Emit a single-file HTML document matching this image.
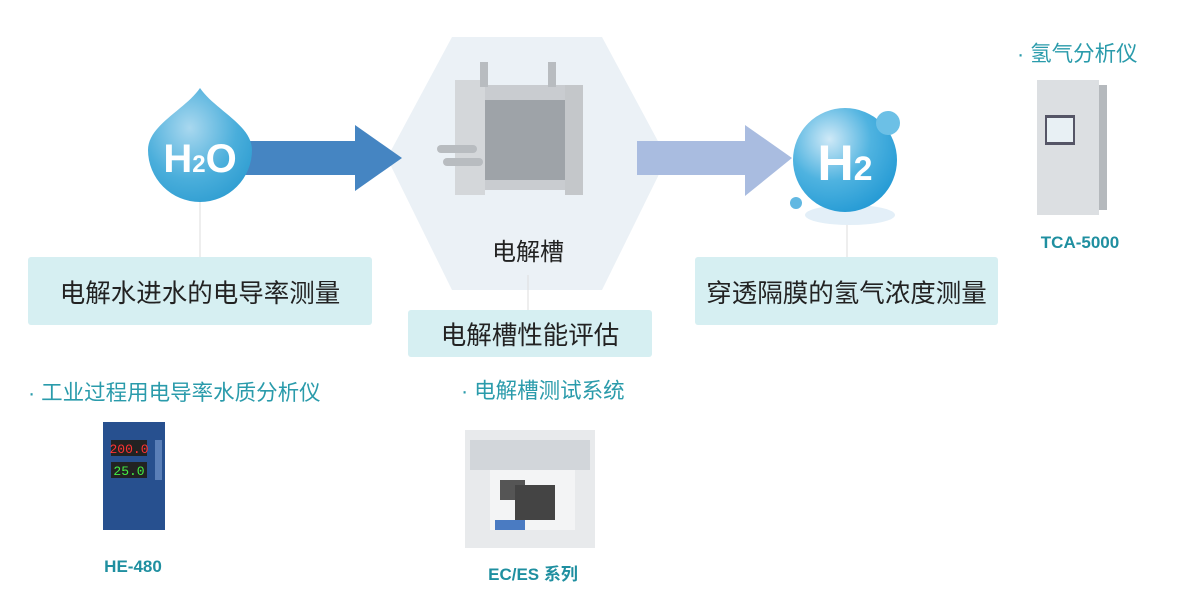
<!DOCTYPE html>
<html><head><meta charset="utf-8"><style>
body{margin:0;width:1200px;height:600px;background:#fff;overflow:hidden;position:relative;font-family:"Liberation Sans","Noto Sans CJK SC",sans-serif}
.a{position:absolute}
.box{position:absolute;background:#d6eff2;border-radius:3px;display:flex;align-items:center;justify-content:center;color:#222;font-size:25.5px}
.teal{color:#2a9bab;font-size:21.5px}
.lbl{color:#1f8fa0;font-weight:bold;font-size:17px;text-align:center}
</style></head><body>
<svg class="a" style="left:0;top:0" width="1200" height="600">
<defs>
<radialGradient id="d" cx="0.4" cy="0.35" r="0.75"><stop offset="0" stop-color="#a9d8ef"/><stop offset="0.6" stop-color="#4aaedb"/><stop offset="1" stop-color="#2b9bd0"/></radialGradient>
<radialGradient id="h" cx="0.35" cy="0.3" r="0.8"><stop offset="0" stop-color="#cfe9f7"/><stop offset="0.5" stop-color="#4fb3e0"/><stop offset="1" stop-color="#1f97d3"/></radialGradient>
</defs>
<polygon points="452,37 602,37 667,158 602,290 452,290 387,158" fill="#ebf1f6"/>
<line x1="200" y1="200" x2="200" y2="258" stroke="#ddd"/>
<line x1="528" y1="275" x2="528" y2="312" stroke="#ddd"/>
<line x1="847" y1="222" x2="847" y2="258" stroke="#ddd"/>
<polygon points="245,141 355,141 355,125 402,158 355,191 355,175 245,175" fill="#4585c2"/>
<path d="M200,88 C215,110 252,125 252,150 A52,52 0 0 1 148,150 C148,125 185,110 200,88Z" fill="url(#d)"/>
<text x="200" y="172" text-anchor="middle" fill="#fff" font-family="Liberation Sans" font-weight="bold" font-size="40">H<tspan font-size="24">2</tspan>O</text>
<polygon points="637,141 745,141 745,125 792,158 745,196 745,175 637,175" fill="#a9bce0"/>
<ellipse cx="850" cy="215" rx="45" ry="10" fill="#e3eff8"/>
<circle cx="845" cy="160" r="52" fill="url(#h)"/>
<circle cx="888" cy="123" r="12" fill="#6cc0e6"/>
<circle cx="796" cy="203" r="6" fill="#62b8e2"/>
<text x="845" y="180" text-anchor="middle" fill="#fff" font-family="Liberation Sans" font-weight="bold" font-size="50">H<tspan font-size="34">2</tspan></text>
<g fill="#b8bcc0">
<rect x="458" y="85" width="120" height="105" fill="#c9ccd0"/>
<rect x="485" y="100" width="80" height="80" fill="#9ea3a8"/>
<rect x="455" y="80" width="30" height="115" fill="#d4d7da"/>
<rect x="565" y="85" width="18" height="110" fill="#c4c7ca"/>
<rect x="437" y="145" width="40" height="8" rx="4"/>
<rect x="443" y="158" width="40" height="8" rx="4"/>
<rect x="480" y="62" width="8" height="25"/><rect x="548" y="62" width="8" height="25"/>
</g>
<rect x="1037" y="80" width="62" height="135" fill="#dcdfe2"/>
<rect x="1099" y="85" width="8" height="125" fill="#b5b9bd"/>
<rect x="1045" y="115" width="30" height="30" fill="#556"/>
<rect x="1047" y="118" width="26" height="24" fill="#e8f0f4"/>
<rect x="103" y="422" width="62" height="108" fill="#27508f"/>
<rect x="111" y="440" width="36" height="16" fill="#222"/><text x="129" y="453" text-anchor="middle" fill="#f33" font-size="13" font-family="Liberation Mono">200.0</text>
<rect x="111" y="462" width="36" height="16" fill="#222"/><text x="129" y="475" text-anchor="middle" fill="#4e4" font-size="13" font-family="Liberation Mono">25.0</text>
<rect x="155" y="440" width="7" height="40" fill="#5a7fb8"/>
<rect x="465" y="430" width="130" height="118" fill="#e8eaec"/>
<rect x="470" y="440" width="120" height="30" fill="#d2d6da"/>
<rect x="490" y="470" width="85" height="60" fill="#f3f4f5"/>
<rect x="500" y="480" width="25" height="20" fill="#555"/>
<rect x="515" y="485" width="40" height="35" fill="#444"/>
<rect x="495" y="520" width="30" height="10" fill="#4a7bc2"/>
</svg>
<div class="box" style="left:28px;top:257px;width:344px;height:68px">电解水进水的电导率测量</div>
<div class="box" style="left:408px;top:310px;width:244px;height:47px">电解槽性能评估</div>
<div class="box" style="left:695px;top:257px;width:303px;height:68px">穿透隔膜的氢气浓度测量</div>
<div class="a" style="left:478px;top:232px;width:100px;text-align:center;font-size:24px;color:#222">电解槽</div>
<div class="a teal" style="left:1017px;top:37px">· 氢气分析仪</div>
<div class="a teal" style="left:28px;top:376px">· 工业过程用电导率水质分析仪</div>
<div class="a teal" style="left:461px;top:374px">· 电解槽测试系统</div>
<div class="a lbl" style="left:1030px;top:233px;width:100px">TCA-5000</div>
<div class="a lbl" style="left:83px;top:557px;width:100px">HE-480</div>
<div class="a lbl" style="left:473px;top:560px;width:120px">EC/ES 系列</div>
</body></html>
